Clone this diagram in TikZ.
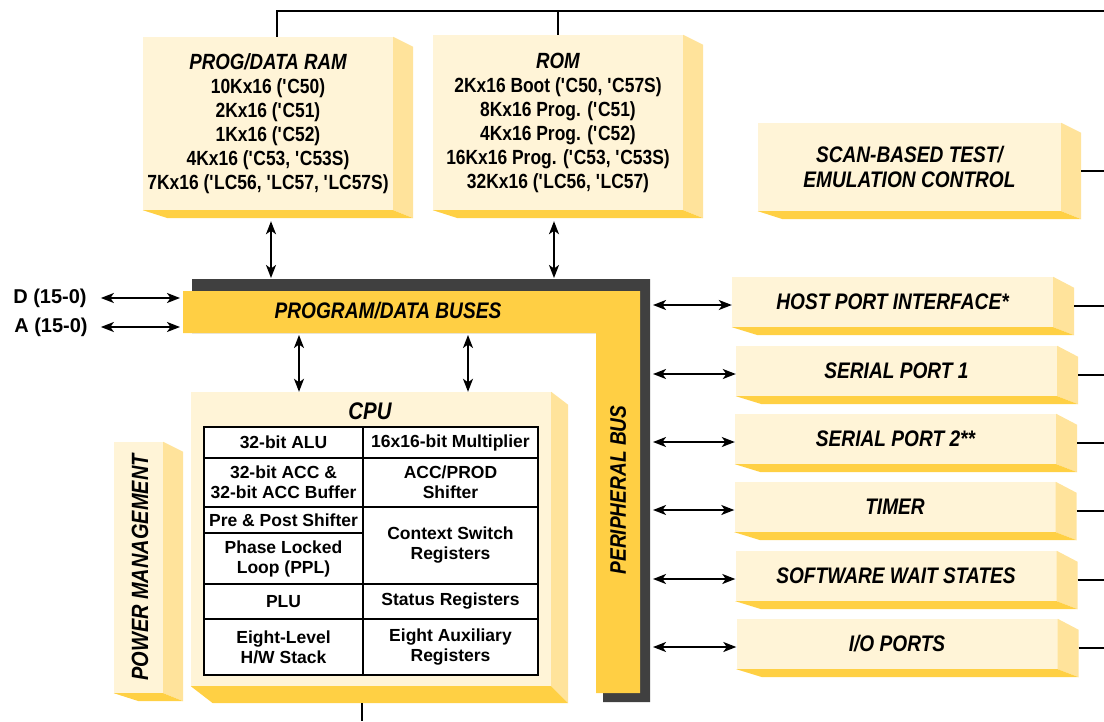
\documentclass[tikz,border=0pt]{standalone}
\usepackage{fontspec}
\setmainfont{Liberation Sans}
\newfontfamily\narrowfont{Liberation Sans}[FakeStretch=0.85]
\usetikzlibrary{arrows.meta,calc}

\definecolor{facecream}{HTML}{FFF4D7}
\definecolor{sidetan}{HTML}{FFE39B}
\definecolor{bottomgold}{HTML}{FFD044}
\definecolor{busyellow}{HTML}{FFCF44}
\definecolor{busshadow}{HTML}{404040}

\newcommand\chipq{\textquotesingle}

\begin{document}
\begin{tikzpicture}[
    x=1pt, y=-1pt,
    block/.style={fill=facecream, inner sep=0pt, align=center},
    memtext/.style={font=\narrowfont\bfseries\fontsize{20.5}{24}\selectfont},
    porttext/.style={font=\narrowfont\bfseries\itshape\fontsize{22.5}{25}\selectfont},
    bustext/.style={font=\narrowfont\bfseries\itshape\fontsize{22.5}{25}\selectfont, inner sep=0pt},
    cell/.style={draw, line width=2.5pt, inner sep=0pt, align=center, font=\bfseries\fontsize{17.5}{20}\selectfont},
    pinlabel/.style={font=\bfseries\fontsize{20}{24}\selectfont, inner sep=0pt},
    wire/.style={line width=2pt},
    bi/.style={{Stealth[length=13pt,width=10pt,inset=3.5pt]}-{Stealth[length=13pt,width=10pt,inset=3.5pt]}, line width=1.8pt}
]
\useasboundingbox (0,0) rectangle (1104,721);

\coordinate (topleft) at (277,11);
\coordinate (topright) at (1104,11);
\coordinate (rimedge) at (1104,0);
\coordinate (bottomedge) at (0,721);
\coordinate (busleft) at (180,0);
\coordinate (bustop) at (0,278);
\coordinate (busbot) at (0,335);
\coordinate (perright) at (653,0);

% buses
\fill[busshadow] (192,279) -- (650,279) -- (650,702) -- (603,702) -- (603,333) -- (192,333) -- cycle;
\fill[busyellow] (183,291) -- (640,291) -- (640,693) -- (596,693) -- (596,333) -- (183,333) -- cycle;
\node[bustext] (pdbus) at (388,311) {PROGRAM/DATA BUSES};
\node[bustext, rotate=90] (perbus) at (618,490) {PERIPHERAL BUS};

% memory
\node[block, memtext, minimum width=250, minimum height=173] (ram) at (268,123.5)
    {{\itshape\fontsize{22}{24}\selectfont PROG/DATA RAM}\\10Kx16 (\chipq C50)\\2Kx16 (\chipq C51)\\1Kx16 (\chipq C52)\\
     4Kx16 (\chipq C53, \chipq C53S)\\7Kx16 (\chipq LC56, \chipq LC57, \chipq LC57S)};
\node[block, memtext, minimum width=250, minimum height=175] (rom) at (558,122.5)
    {{\itshape\fontsize{22}{24}\selectfont ROM}\\2Kx16 Boot (\chipq C50, \chipq C57S)\\8Kx16 Prog. (\chipq C51)\\4Kx16 Prog. (\chipq C52)\\
     16Kx16 Prog. (\chipq C53, \chipq C53S)\\32Kx16 (\chipq LC56, \chipq LC57)};
\node[block, porttext, minimum width=303, minimum height=88] (scan) at (909.5,167)
    {SCAN-BASED TEST/\\EMULATION CONTROL};

% peripherals
\node[block, porttext, minimum width=321, minimum height=50] (host) at (892.5,302) {HOST PORT INTERFACE*};
\node[block, porttext, minimum width=321, minimum height=50] (ser1) at (896.5,371) {SERIAL PORT 1};
\node[block, porttext, minimum width=321, minimum height=50] (ser2) at (895.5,439) {SERIAL PORT 2**};
\node[block, porttext, minimum width=321, minimum height=50] (timer) at (895,507) {TIMER};
\node[block, porttext, minimum width=321, minimum height=50] (wait) at (896,576) {SOFTWARE WAIT STATES};
\node[block, porttext, minimum width=321, minimum height=50] (io) at (897,644) {I/O PORTS};

% cpu and power
\node[block, minimum width=360, minimum height=294] (cpu) at (371,539) {};
\node[block, minimum width=49, minimum height=251] (power) at (138.5,567.5) {};
\node[bustext, rotate=90, font=\narrowfont\bfseries\itshape\fontsize{23.5}{26}\selectfont] (powertext) at (140,567.5) {POWER MANAGEMENT};
\node[bustext, font=\narrowfont\bfseries\itshape\fontsize{24}{26}\selectfont] (cputitle) at (370,411) {CPU};

\foreach \b/\dx/\dt/\dy in {ram/20/10/8, rom/20/10/8, scan/20/10/8, host/21/11/8, ser1/21/11/8,
    ser2/21/11/8, timer/21/11/8, wait/21/11/8, io/21/11/8, cpu/17/13/17, power/20/10/8} {
  \fill[sidetan] (\b.north east) -- ++(\dx,\dt) -- ($(\b.south east)+(\dx,\dy)$) -- (\b.south east) -- cycle;
  \fill[bottomgold] (\b.south west) -- (\b.south east) -- ++(\dx,\dy) -- ($(\b.south west)+(\dx+5,\dy)$) -- cycle;
}

% cpu table
\fill[white] (204,427) rectangle (538,675);
\foreach \xa/\ya/\xb/\yb/\txt [count=\i] in {
    204/427/363/458/{32-bit ALU},
    204/458/363/507/{32-bit ACC \&\\32-bit ACC Buffer},
    204/507/363/533/{Pre \& Post Shifter},
    204/533/363/584/{Phase Locked\\Loop (PPL)},
    204/584/363/619/{PLU},
    204/619/363/675/{Eight-Level\\H/W Stack},
    363/427/538/458/{16x16-bit Multiplier},
    363/458/538/507/{ACC/PROD\\Shifter},
    363/507/538/584/{Context Switch\\Registers},
    363/584/538/619/{Status Registers},
    363/619/538/675/{Eight Auxiliary\\Registers}} {
  \node[cell, minimum width={(\xb-\xa)*1pt}, minimum height={(\yb-\ya)*1pt}] (cell\i)
      at ({(\xa+\xb)/2},{(\ya+\yb)/2}) {\txt};
}

% pins
\node[pinlabel] (dpin) at (50,298) {D (15-0)};
\node[pinlabel] (apin) at (51,327) {A (15-0)};
\draw[bi] ([xshift=14pt]dpin.east) -- (dpin -| busleft);
\draw[bi] ([xshift=13pt]apin.east) -- (apin -| busleft);

% connections
\draw[wire] (ram.north -| topleft) -- (topleft) -- (topright);
\draw[wire] (rom.north) -- (rom.north |- topleft);
\draw[bi] ([xshift=3pt,yshift=-11pt]ram.south) -- ([xshift=3pt]ram.south |- bustop);
\draw[bi] ([xshift=-4pt,yshift=-11pt]rom.south) -- ([xshift=-4pt]rom.south |- bustop);
\draw[bi] ([xshift=-72pt]cpu.north) -- ([xshift=-72pt]cpu.north |- busbot);
\draw[bi] ([xshift=97pt]cpu.north) -- ([xshift=97pt]cpu.north |- busbot);
\draw[wire] ([xshift=-9pt,yshift=-17pt]cpu.south) -- ([xshift=-9pt]cpu.south |- bottomedge);

\foreach \b in {host,ser1,ser2,timer,wait,io}
  \draw[bi] ([yshift=-3pt]\b.west) -- ([yshift=-3pt]\b.west -| perright);
\foreach \b/\dx in {scan/20,host/21,ser1/21,ser2/21,timer/21,wait/21,io/21}
  \draw[wire] ([xshift=\dx pt,yshift=-4pt]\b.east) -- ([yshift=-4pt]\b.east -| rimedge);
\end{tikzpicture}
\end{document}
